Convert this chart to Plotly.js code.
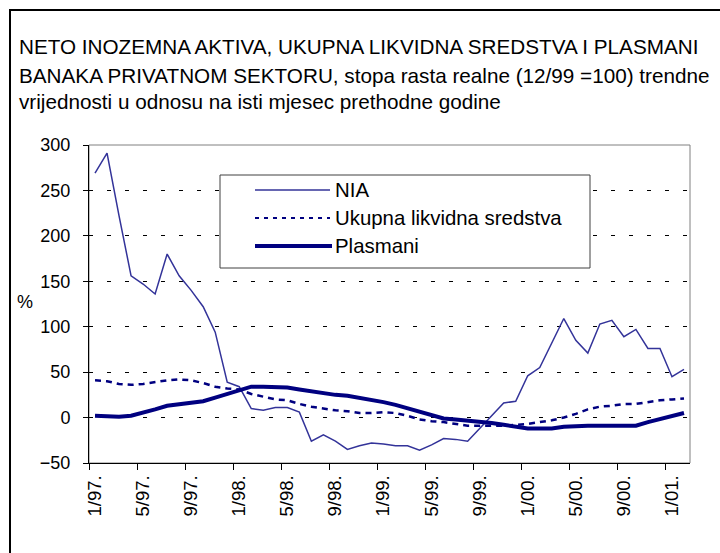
<!DOCTYPE html>
<html>
<head>
<meta charset="utf-8">
<script src="https://cdn.plot.ly/plotly-3.0.1.min.js"></script>
<style>html,body{margin:0;padding:0;background:#fff;}#chart{width:720px;height:553px;}</style>
</head>
<body>
<div id="chart"></div>
<script>
// ---- data ----
const months = [
  "1/97.","2/97.","3/97.","4/97.","5/97.","6/97.","7/97.","8/97.","9/97.","10/97.","11/97.","12/97.",
  "1/98.","2/98.","3/98.","4/98.","5/98.","6/98.","7/98.","8/98.","9/98.","10/98.","11/98.","12/98.",
  "1/99.","2/99.","3/99.","4/99.","5/99.","6/99.","7/99.","8/99.","9/99.","10/99.","11/99.","12/99.",
  "1/00.","2/00.","3/00.","4/00.","5/00.","6/00.","7/00.","8/00.","9/00.","10/00.","11/00.","12/00.",
  "1/01.","2/01."
];
const tickLabels = ["1/97.","5/97.","9/97.","1/98.","5/98.","9/98.","1/99.","5/99.","9/99.","1/00.","5/00.","9/00.","1/01."];

const nia = [269,291,222,156,147,136,180,156,140,122,94,39,34,10,8,11,11,6,-26,-19,
             -26,-35,-31,-28,-29,-31,-31,-36,-30,-23,-24,-26,-12,2,16,18,46,55,82,109,
             85,71,103,107,89,97,76,76,45,53];
const ukupna = [41,40,37,36,37,39,41,42,41,38,34,32,31,26,23,20,19,15,12,10,
                8,7,5,5,6,5,2,-2,-4,-5,-7,-9,-9,-9,-9,-8,-7,-5,-3,0,
                4,9,12,13,15,15,17,19,20,21];
const plasmani = [2,1,1,2,5,9,13,15,16,18,22,26,31,34,34,34,33,31,29,26,
                  25,24,22,20,17,14,10,6,3,-1,-2,-3,-5,-6,-8,-10,-12,-12,-12,-10,
                  -9,-9,-9,-9,-9,-9,-5,-2,2,5];

const seriesNames = ["NIA","Ukupna likvidna sredstva","Plasmani"];
const titleLines = [
  "NETO INOZEMNA AKTIVA, UKUPNA LIKVIDNA SREDSTVA I PLASMANI",
  "BANAKA PRIVATNOM SEKTORU, stopa rasta realne (12/99 =100) trendne",
  "vrijednosti u odnosu na isti mjesec prethodne godine"
];

// ---- geometry helpers (layout only) ----
const W = 720, H = 553, L = 89, R = 690, T = 145, B = 463;
const px = p => (p - L) / (R - L);
const py = p => (B - p) / (B - T);
const FONT = "Liberation Sans, Arial, sans-serif";
const navy = "#000080", blue = "#333399";
const TS = 20.7;

const step = 4;
const boundaryTicks = tickLabels.map((_, k) => k * step - 0.5);

const traces = [
  {x: months, y: nia, name: seriesNames[0], type: "scatter", mode: "lines",
   line: {color: blue, width: 1.5}, showlegend: false},
  {x: months, y: ukupna, name: seriesNames[1], type: "scatter", mode: "lines",
   line: {color: navy, width: 2.5, dash: "6px,5px"}, showlegend: false},
  {x: months, y: plasmani, name: seriesNames[2], type: "scatter", mode: "lines",
   line: {color: navy, width: 4}, showlegend: false},
  {x: [], y: [], xaxis: "x2", yaxis: "y", type: "scatter", mode: "lines", showlegend: false, hoverinfo: "skip"}
];

// manual legend
const legY = [190, 218, 246];
const legendShapes = [
  {type: "rect", xref: "paper", yref: "paper", x0: px(220), x1: px(590), y0: py(175), y1: py(268),
   line: {color: "#404040", width: 1}, fillcolor: "#ffffff", layer: "above"},
  {type: "line", xref: "paper", yref: "paper", x0: px(255), x1: px(330), y0: py(legY[0]), y1: py(legY[0]),
   line: {color: blue, width: 1.5}, layer: "above"},
  {type: "line", xref: "paper", yref: "paper", x0: px(255), x1: px(330), y0: py(legY[1]), y1: py(legY[1]),
   line: {color: navy, width: 2, dash: "4px,5px"}, layer: "above"},
  {type: "line", xref: "paper", yref: "paper", x0: px(255), x1: px(332), y0: py(legY[2]), y1: py(legY[2]),
   line: {color: navy, width: 4}, layer: "above"}
];
const legendAnn = seriesNames.map((n, i) => ({
  text: n, xref: "paper", yref: "paper", x: px(333), y: py(legY[i]),
  xanchor: "left", yanchor: "middle", showarrow: false,
  font: {family: FONT, size: 20.4, color: "#000"}
}));

const titleAnn = titleLines.slice(1).map((t, i) => ({
  text: t, xref: "paper", yref: "paper", x: px(17), y: py([75, 102][i]),
  xanchor: "left", yanchor: "middle", showarrow: false,
  font: {family: FONT, size: TS, color: "#000"}
}));

const layout = {
  width: W, height: H,
  margin: {l: L, r: W - R, t: T, b: H - B, pad: 0},
  paper_bgcolor: "#fff", plot_bgcolor: "#fff",
  font: {family: FONT, color: "#000"},
  title: {text: titleLines[0], xref: "container", yref: "container",
          x: 19 / W, xanchor: "left", y: 1 - 47 / H, yanchor: "middle",
          font: {family: FONT, size: TS, color: "#000"}},
  xaxis: {type: "category", range: [-0.5, months.length - 0.5],
          tickmode: "array", tickvals: tickLabels, ticktext: tickLabels,
          ticks: "", tickangle: -90, tickfont: {family: FONT, size: 18.5, color: "#000"},
          ticklabelstandoff: 4,
          showline: true, linecolor: "#000", linewidth: 1, showgrid: false, zeroline: false,
          automargin: false, fixedrange: true},
  xaxis2: {overlaying: "x", anchor: "y", side: "bottom", type: "linear",
           range: [-0.5, months.length - 0.5], tickmode: "array", tickvals: boundaryTicks,
           showticklabels: false, ticks: "outside", ticklen: 6, tickcolor: "#000", tickwidth: 1,
           showline: false, showgrid: false, zeroline: false, automargin: false, fixedrange: true},
  yaxis: {range: [-50, 300], tickmode: "linear", tick0: 0, dtick: 50,
          ticks: "outside", ticklen: 5, tickcolor: "#000", tickwidth: 1,
          showline: true, linecolor: "#000", linewidth: 1,
          showgrid: true, gridcolor: "#000", gridwidth: 1, griddash: "4px,14px",
          zeroline: false, tickfont: {family: FONT, size: 18, color: "#000"},
          ticklabelstandoff: 9, automargin: false, fixedrange: true},
  shapes: [
    {type: "rect", xref: "paper", yref: "paper", x0: 0, x1: 1, y0: 0, y1: 1,
     line: {color: "#808080", width: 1}, layer: "below"},
    {type: "rect", xref: "paper", yref: "paper", x0: px(10), x1: px(730), y0: py(565), y1: py(10),
     line: {color: "#000", width: 2}, layer: "above"}
  ].concat(legendShapes),
  annotations: [
    {text: "%", xref: "paper", yref: "paper", x: px(25), y: py(302), xanchor: "center", yanchor: "middle",
     showarrow: false, font: {family: FONT, size: 18, color: "#000"}}
  ].concat(titleAnn, legendAnn),
  showlegend: false
};

Plotly.newPlot("chart", traces, layout, {staticPlot: true, displayModeBar: false});
</script>
</body>
</html>
